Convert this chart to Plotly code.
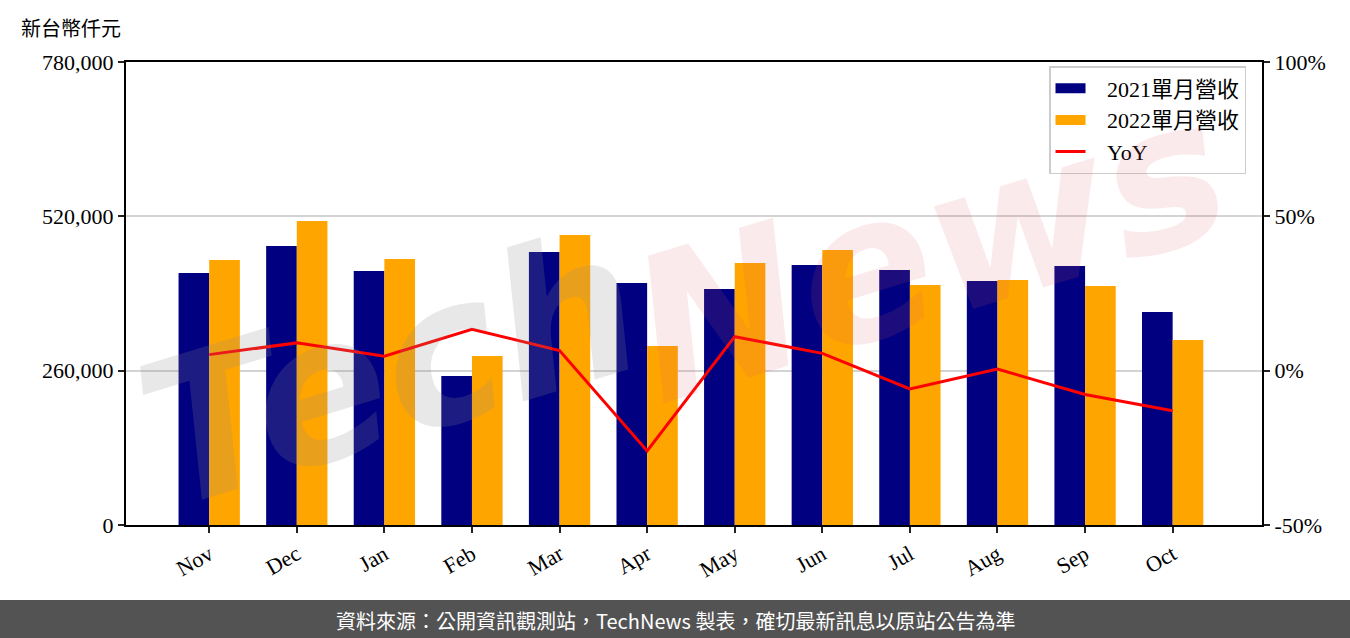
import plotly.graph_objects as go

months = ["Nov", "Dec", "Jan", "Feb", "Mar", "Apr", "May", "Jun", "Jul", "Aug", "Sep", "Oct"]
rev_2021 = [424500, 470000, 427900, 251000, 459900, 407700, 397600, 438000, 429600, 411100, 436300, 358800]
rev_2022 = [446400, 512200, 448100, 284700, 488600, 301600, 441400, 463300, 404300, 412800, 402600, 311700]
yoy_pct = [5.2, 9.0, 4.7, 13.4, 6.5, -26.0, 11.0, 5.6, -5.9, 0.5, -7.7, -13.0]

left_ticks = [0, 260000, 520000, 780000]
left_ticktext = ["0", "260,000", "520,000", "780,000"]
right_ticks = [-50, 0, 50, 100]
right_ticktext = ["-50%", "0%", "50%", "100%"]

SERIF = "Liberation Serif, Noto Sans CJK TC, serif"
xs = list(range(len(months)))
NAVY, ORANGE, RED = "#000080", "#FFA500", "#FF0000"
GAP = "\u00a0\u00a0\u00a0"

# plot area in pixels (for paper-coordinate helpers)
PL, PR, PT, PB = 126, 1262, 62, 525
PW, PH = PR - PL, PB - PT


def px(x):
    return (x - PL) / PW


def py(y):
    return (PB - y) / PH


fig = go.Figure()
fig.add_trace(go.Bar(x=xs, y=rev_2021, name="2021單月營收", marker_color=NAVY,
                     marker_line_width=0, offsetgroup="a", showlegend=False))
fig.add_trace(go.Bar(x=xs, y=rev_2022, name="2022單月營收", marker_color=ORANGE,
                     marker_line_width=0, offsetgroup="b", showlegend=False))
fig.add_trace(go.Scatter(x=xs, y=yoy_pct, name="YoY", mode="lines",
                         line=dict(color=RED, width=3), yaxis="y2", showlegend=False))
# legend entries (patch-like rectangles for the bars)
fig.add_trace(go.Scatter(x=[None], y=[None], name=GAP + "2021單月營收", mode="lines",
                         line=dict(color=NAVY, width=16)))
fig.add_trace(go.Scatter(x=[None], y=[None], name=GAP + "2022單月營收", mode="lines",
                         line=dict(color=ORANGE, width=16)))
fig.add_trace(go.Scatter(x=[None], y=[None], name=GAP + "YoY", mode="lines",
                         line=dict(color=RED, width=3)))

# watermark
fig.add_annotation(text="<i><b>Tech</b></i>", xref="paper", yref="paper", x=px(390), y=py(370),
                   xanchor="center", yanchor="middle",
                   showarrow=False, textangle=-17,
                   font=dict(size=200, color="rgba(140,140,140,0.2)", family="DejaVu Sans"))
fig.add_annotation(text="<i><b>News</b></i>", xref="paper", yref="paper", x=px(930), y=py(250),
                   xanchor="center", yanchor="middle",
                   showarrow=False, textangle=-17,
                   font=dict(size=200, color="rgba(220,90,100,0.13)", family="DejaVu Sans"))

# footer
fig.add_shape(type="rect", xref="paper", yref="paper", x0=px(-10), x1=px(1360),
              y0=py(640), y1=py(600), fillcolor="#535353", line_width=0, layer="below")
fig.add_annotation(text="資料來源：公開資訊觀測站，TechNews 製表，確切最新訊息以原站公告為準",
                   xref="paper", yref="paper", x=px(675), y=py(620),
                   showarrow=False, font=dict(size=20, color="white",
                                              family="Noto Sans CJK TC"),
                   xanchor="center", yanchor="middle")
# unit label
fig.add_annotation(text="新台幣仟元", xref="paper", yref="paper", x=px(19), y=py(27),
                   showarrow=False, xanchor="left", yanchor="middle",
                   font=dict(size=20, color="black", family="Noto Sans CJK TC"))

tick_common = dict(ticks="outside", ticklen=6, tickcolor="#222", tickwidth=2,
                   showline=True, linecolor="black", linewidth=2, zeroline=False,
                   tickfont=dict(size=22))

fig.update_layout(
    width=1350, height=638,
    margin=dict(l=PL, r=1350 - PR, t=PT, b=638 - PB),
    paper_bgcolor="white", plot_bgcolor="white",
    barmode="group", bargap=0.3, bargroupgap=0,
    font=dict(family=SERIF, size=22, color="black"),
    showlegend=True,
    legend=dict(x=px(1246), y=py(66), xanchor="right", yanchor="top",
                bgcolor="rgba(255,255,255,0.85)", bordercolor="#cccccc", borderwidth=1.5,
                font=dict(family=SERIF, size=22), tracegroupgap=0),
    xaxis=dict(range=[-0.95, 12.02], tickmode="array", tickvals=xs, ticktext=months,
               tickangle=-30, mirror=True, showgrid=False, **tick_common),
    yaxis=dict(range=[0, 780000], tickmode="array", tickvals=left_ticks, ticktext=left_ticktext,
               showgrid=True, gridcolor="#d3d3d3", gridwidth=1.5, **tick_common),
    yaxis2=dict(range=[-50, 100], overlaying="y", side="right", tickmode="array",
                tickvals=right_ticks, ticktext=right_ticktext, showgrid=False, **tick_common),
)

fig.write_html("out.html", config={"displayModeBar": False},
               post_script="document.body.style.margin='0';")
